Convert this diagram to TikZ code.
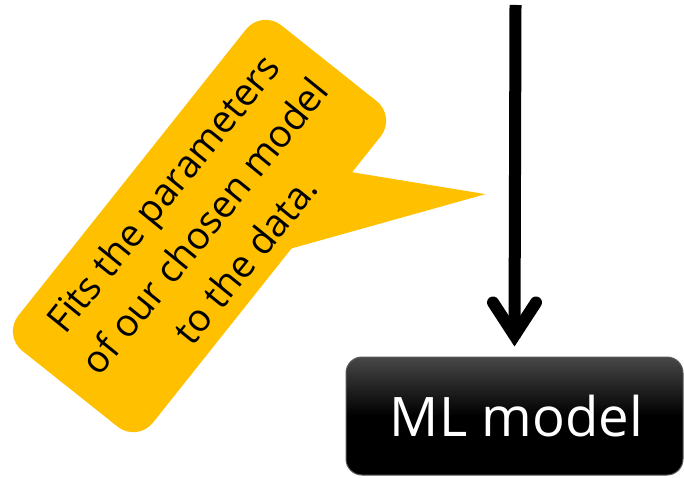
\documentclass[tikz,border=0pt]{standalone}
\usepackage{fontspec}
\setmainfont{Open Sans}
\definecolor{gold}{HTML}{FFC000}
\begin{document}
\begin{tikzpicture}[x=1pt,y=1pt,
  mlbox/.style={rounded corners=16pt, minimum width=337pt, minimum height=118pt,
    draw=black!65, line width=1pt, top color=black!72, bottom color=black,
    middle color=black, text=white, font=\fontsize{54.5}{64}\selectfont, inner sep=0pt},
  shaft/.style={line width=12pt},
  barb/.style={line width=12pt, line cap=round, line join=miter},
  calloutbg/.style={fill=gold},
  callouttext/.style={rotate=51, align=center, font=\fontsize{38}{53}\selectfont, text=black}]
\useasboundingbox (0,0) rectangle (684,477);
% ML model box
\node[mlbox] (ml) at (514.5,61) {\hspace*{4pt}ML model};
% arrow into the box
\coordinate (src) at (515.5,472);
\coordinate (vert) at ([yshift=21pt]ml.north);
\draw[shaft] (src) -- ([yshift=-2pt]vert);
\draw[barb] ([shift={(-21.5,33)}]vert) -- (vert) -- ([shift={(21.5,33)}]vert);
% callout
\begin{scope}[shift={(199.5,251)}, rotate=51.5]
  \fill[calloutbg, rounded corners=25pt] (-208,-86) rectangle (208,86);
  \fill[calloutbg] (37,-84) -- (203,-204) -- (136,-84) -- cycle;
\end{scope}
\node[callouttext] (note) at (204,251) {Fits the parameters\\of our chosen model\\to the data.};
\end{tikzpicture}
\end{document}
